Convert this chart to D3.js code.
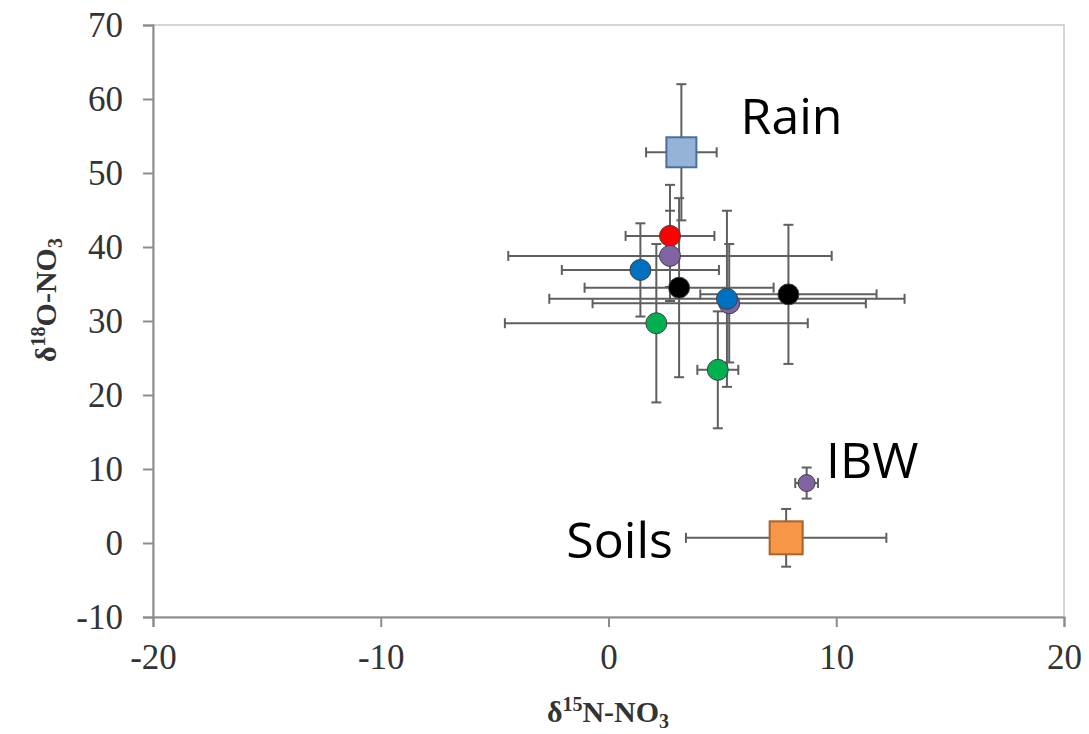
<!DOCTYPE html>
<html><head><meta charset="utf-8">
<script src="https://cdn.jsdelivr.net/npm/d3@7"></script>
<style>body{margin:0;background:#fff}svg{display:block}</style>
</head><body>
<svg id="c" width="1089" height="734"></svg>
<script>
// ---- data ----
const seriesNames = ["Purple2","Red","Purple1","Blue1","Black1","Blue2","Black2","Green1","Green2","IBW"];
const seriesColors = ["#8064a2","#ff0000","#8064a2","#0070c0","#000000","#0070c0","#000000","#00b050","#00b050","#8064a2"];
const xVals  = [5.3, 2.7, 2.7, 1.4, 3.1, 5.2, 7.9, 2.1, 4.8, 8.7];
const yVals  = [32.4, 41.5, 38.8, 36.9, 34.5, 33.0, 33.6, 29.7, 23.4, 8.1];
const xErr   = [6.0, 1.95, 7.1, 3.45, 4.15, 7.8, 3.87, 6.65, 0.9, 0.5];
const yErr   = [8.0, 6.9, 6.1, 6.3, 12.1, 11.9, 9.4, 10.7, 7.9, 2.1];
const markerR = [10.5, 10.5, 10.5, 10.5, 10.5, 10.5, 10.5, 10.5, 10.5, 8.5];

const sourceNames = ["Rain","Soils"];
const sourceFill  = ["#95b3d7","#f79646"];
const sourceStroke= ["#4a6f9e","#a5642b"];
const sourceX     = [3.2, 7.8];
const sourceY     = [52.8, 0.7];
const sourceXErr  = [1.55, 4.4];
const sourceYErr  = [9.2, 3.9];

const labelText = ["Rain","IBW","Soils"];
const labelX    = [5.8, 9.55, -1.85];
const labelY    = [55.3, 8.8, -2.0];

const xTicks = [-20,-10,0,10,20];
const yTicks = [-10,0,10,20,30,40,50,60,70];

// ---- layout ----
const svg = d3.select("#c");
const x = d3.scaleLinear().domain([-20,20]).range([153,1064]);
const y = d3.scaleLinear().domain([-10,70]).range([617,25]);

// plot frame
svg.append("rect").attr("x",x(-20)).attr("y",y(70)).attr("width",x(20)-x(-20)).attr("height",y(-10)-y(70))
  .attr("fill","none").attr("stroke","#c8c8c8").attr("stroke-width",1.5);

// axes
const serif = "'Liberation Serif','Times New Roman',serif";
const fmt = d => String(d);
const ax = svg.append("g").attr("transform",`translate(0,${y(-10)})`)
  .call(d3.axisBottom(x).tickValues(xTicks).tickSize(10).tickPadding(16).tickFormat(fmt));
const ay = svg.append("g").attr("transform",`translate(${x(-20)},0)`)
  .call(d3.axisLeft(y).tickValues(yTicks).tickSize(10).tickPadding(20).tickFormat(fmt));
[ax,ay].forEach(g=>{
  g.select(".domain").attr("stroke","#8c8c8c").attr("stroke-width",2);
  g.selectAll(".tick line").attr("stroke","#8c8c8c").attr("stroke-width",2);
  g.selectAll(".tick text").attr("font-family",serif).attr("font-size",35).attr("fill","#333");
});
ax.selectAll(".tick text").attr("dy","0.75em");

// error bars
const cap = 5;
function errBars(g, cx, cy, ex, ey){
  const s = "#5f5f5f";
  g.append("line").attr("x1",x(cx-ex)).attr("x2",x(cx+ex)).attr("y1",y(cy)).attr("y2",y(cy)).attr("stroke",s).attr("stroke-width",2);
  g.append("line").attr("x1",x(cx-ex)).attr("x2",x(cx-ex)).attr("y1",y(cy)-cap).attr("y2",y(cy)+cap).attr("stroke",s).attr("stroke-width",2);
  g.append("line").attr("x1",x(cx+ex)).attr("x2",x(cx+ex)).attr("y1",y(cy)-cap).attr("y2",y(cy)+cap).attr("stroke",s).attr("stroke-width",2);
  g.append("line").attr("x1",x(cx)).attr("x2",x(cx)).attr("y1",y(cy-ey)).attr("y2",y(cy+ey)).attr("stroke",s).attr("stroke-width",2);
  g.append("line").attr("x1",x(cx)-cap).attr("x2",x(cx)+cap).attr("y1",y(cy-ey)).attr("y2",y(cy-ey)).attr("stroke",s).attr("stroke-width",2);
  g.append("line").attr("x1",x(cx)-cap).attr("x2",x(cx)+cap).attr("y1",y(cy+ey)).attr("y2",y(cy+ey)).attr("stroke",s).attr("stroke-width",2);
}
const eg = svg.append("g");
xVals.forEach((v,i)=>errBars(eg, v, yVals[i], xErr[i], yErr[i]));
sourceX.forEach((v,i)=>errBars(eg, v, sourceY[i], sourceXErr[i], sourceYErr[i]));

// markers
const mg = svg.append("g");
xVals.forEach((v,i)=>{
  mg.append("circle").attr("cx",x(v)).attr("cy",y(yVals[i])).attr("r",markerR[i])
    .attr("fill",seriesColors[i]).attr("stroke","#404040").attr("stroke-width",1);
});
const sq = [30, 33];
sourceX.forEach((v,i)=>{
  mg.append("rect").attr("x",x(v)-sq[i]/2).attr("y",y(sourceY[i])-sq[i]/2).attr("width",sq[i]).attr("height",sq[i])
    .attr("fill",sourceFill[i]).attr("stroke",sourceStroke[i]).attr("stroke-width",2);
});

// labels
const sans = "'Open Sans','Liberation Sans',sans-serif";
labelText.forEach((t,i)=>{
  svg.append("text").attr("x",x(labelX[i])).attr("y",y(labelY[i])).attr("font-family",sans)
    .attr("font-size",50).attr("fill","#000").text(t);
});

// axis titles
const xt = svg.append("text").attr("x",608).attr("y",722).attr("text-anchor","middle")
  .attr("font-family",serif).attr("font-weight","bold").attr("font-size",30).attr("fill","#333");
xt.append("tspan").text("δ");
xt.append("tspan").attr("font-size",20).attr("dy",-11).text("15");
xt.append("tspan").attr("dy",11).text("N-NO");
xt.append("tspan").attr("font-size",20).attr("dy",6).text("3");

const yt = svg.append("text").attr("transform","translate(56,300) rotate(-90)").attr("text-anchor","middle")
  .attr("font-family",serif).attr("font-weight","bold").attr("font-size",30).attr("fill","#333");
yt.append("tspan").text("δ");
yt.append("tspan").attr("font-size",20).attr("dy",-11).text("18");
yt.append("tspan").attr("dy",11).text("O-NO");
yt.append("tspan").attr("font-size",20).attr("dy",6).text("3");
</script>
</body></html>
